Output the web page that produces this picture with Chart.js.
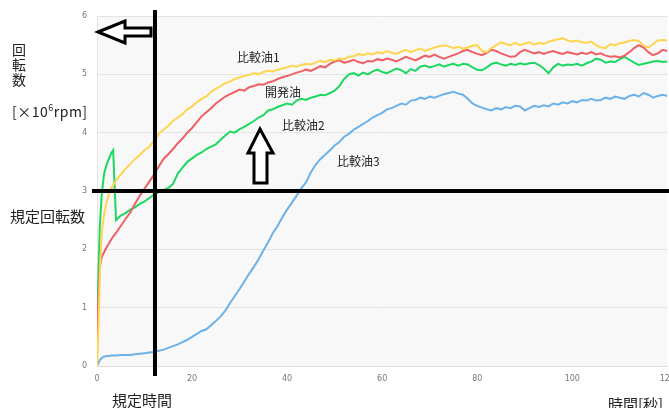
<!DOCTYPE html>
<html>
<head>
<meta charset="utf-8">
<script src="https://cdn.jsdelivr.net/npm/chart.js@4.4.0/dist/chart.umd.min.js"></script>
<style>
  html, body { margin: 0; padding: 0; background: #fff; overflow: hidden; width: 669px; height: 408px; }
  #wrap { position: relative; width: 683px; height: 408px; font-family: "Noto Sans CJK JP", sans-serif; color: #222; }
  canvas { position: absolute; left: 0; top: 0; }
  .txt { position: absolute; white-space: nowrap; line-height: 1; }
  .lbl { font-size: 12px; color: #222; }
</style>
</head>
<body>
<div id="wrap">
  <canvas id="chart" width="683" height="408"></canvas>
  <div class="txt" style="left:12px; top:42px; font-size:14px; line-height:15px;">回<br>転<br>数</div>
  <div class="txt" style="left:12px; top:103px; font-size:14px; letter-spacing:0.5px;">[×10<sup style="font-size:9px; vertical-align:6px;">6</sup>rpm]</div>
  <div class="txt" style="left:10px; top:208px; font-size:15px;">規定回転数</div>
  <div class="txt" style="left:112px; top:392px; font-size:15px;">規定時間</div>
  <div class="txt" style="left:608px; top:396px; font-size:15px;">時間[秒]</div>
  <div class="txt lbl" style="left:237px; top:51px;">比較油1</div>
  <div class="txt lbl" style="left:265px; top:86px;">開発油</div>
  <div class="txt lbl" style="left:282px; top:119px;">比較油2</div>
  <div class="txt lbl" style="left:337px; top:155px;">比較油3</div>
</div>
<script>
// time axis [s]
const times = [0, 0.3, 0.6, 1, 1.5, 2, 2.5, 3, 3.4,
  4, 5, 6, 7, 8, 9, 10, 11, 12, 13,
  14, 15, 16, 17, 18, 19, 20, 21, 22, 23,
  24, 25, 26, 27, 28, 29, 30, 31, 32, 33,
  34, 35, 36, 37, 38, 39, 40, 41, 42, 43,
  44, 45, 46, 47, 48, 49, 50, 51, 52, 53,
  54, 55, 56, 57, 58, 59, 60, 61, 62, 63,
  64, 65, 66, 67, 68, 69, 70, 71, 72, 73,
  74, 75, 76, 77, 78, 79, 80, 81, 82, 83,
  84, 85, 86, 87, 88, 89, 90, 91, 92, 93,
  94, 95, 96, 97, 98, 99, 100, 101, 102, 103,
  104, 105, 106, 107, 108, 109, 110, 111, 112, 113,
  114, 115, 116, 117, 118, 119, 120];

// 比較油1 (yellow)
const oil1 = [0, 0.6, 1.6, 2.3, 2.6, 2.8, 2.95, 3.05, 3.1,
  3.18, 3.28, 3.38, 3.46, 3.55, 3.62, 3.7, 3.76, 3.86, 3.98,
  4.05, 4.12, 4.2, 4.26, 4.32, 4.4, 4.45, 4.52, 4.58, 4.62,
  4.7, 4.75, 4.8, 4.85, 4.88, 4.92, 4.95, 4.97, 4.99, 5.02,
  5.0, 5.04, 5.06, 5.05, 5.08, 5.1, 5.12, 5.15, 5.13, 5.16,
  5.18, 5.17, 5.2, 5.23, 5.21, 5.25, 5.24, 5.27, 5.26, 5.3,
  5.31, 5.35, 5.33, 5.36, 5.34, 5.38, 5.36, 5.4, 5.37, 5.35,
  5.39, 5.42, 5.38, 5.41, 5.44, 5.4, 5.43, 5.46, 5.48, 5.5,
  5.48, 5.45, 5.47, 5.44, 5.46, 5.49, 5.5, 5.4, 5.38, 5.45,
  5.5, 5.55, 5.52, 5.5, 5.54, 5.5, 5.53, 5.55, 5.51, 5.54,
  5.52, 5.56, 5.58, 5.6, 5.62, 5.58, 5.56, 5.58, 5.55, 5.54,
  5.56, 5.5, 5.46, 5.45, 5.52, 5.5, 5.53, 5.55, 5.57, 5.59,
  5.57, 5.49, 5.46, 5.52, 5.58, 5.59, 5.58];

// 開発油 (red)
const devOil = [0.3, 1.2, 1.7, 1.87, 1.95, 2.03, 2.1, 2.17, 2.22,
  2.28, 2.4, 2.52, 2.63, 2.78, 2.92, 3.04, 3.16, 3.28, 3.42,
  3.55, 3.63, 3.72, 3.82, 3.9, 4.0, 4.08, 4.18, 4.28, 4.35,
  4.42, 4.5, 4.56, 4.62, 4.66, 4.7, 4.74, 4.72, 4.78, 4.8,
  4.83, 4.82, 4.86, 4.88, 4.92, 4.95, 4.97, 5.0, 5.03, 5.05,
  5.08, 5.06, 5.1, 5.14, 5.12, 5.18, 5.22, 5.24, 5.2, 5.22,
  5.25, 5.21, 5.19, 5.23, 5.22, 5.26, 5.24, 5.27, 5.25, 5.22,
  5.26, 5.3, 5.27, 5.24, 5.28, 5.32, 5.3, 5.34, 5.3, 5.27,
  5.3, 5.33, 5.36, 5.4, 5.42, 5.38, 5.35, 5.33, 5.37, 5.42,
  5.4, 5.36, 5.33, 5.3, 5.31, 5.38, 5.42, 5.39, 5.36, 5.38,
  5.35, 5.38, 5.4, 5.37, 5.35, 5.38, 5.36, 5.34, 5.37, 5.35,
  5.38, 5.34, 5.36, 5.32, 5.3, 5.31, 5.29, 5.32, 5.38, 5.45,
  5.5, 5.46, 5.38, 5.33, 5.36, 5.42, 5.4];

// 比較油2 (green)
const oil2 = [0.65, 1.6, 2.4, 2.95, 3.3, 3.45, 3.55, 3.65, 3.7,
  2.5, 2.58, 2.62, 2.68, 2.72, 2.78, 2.82, 2.88, 2.94, 2.98,
  3.02, 3.05, 3.12, 3.3, 3.4, 3.5, 3.56, 3.62, 3.66, 3.72,
  3.76, 3.8, 3.88, 3.95, 4.02, 4.0, 4.06, 4.1, 4.15, 4.2,
  4.26, 4.3, 4.38, 4.4, 4.44, 4.47, 4.5, 4.48, 4.55, 4.58,
  4.56, 4.6, 4.62, 4.65, 4.64, 4.68, 4.72, 4.8, 4.92, 5.0,
  5.02, 4.98, 5.03, 5.0, 5.05, 5.08, 5.04, 5.02, 5.06, 5.1,
  5.07, 5.02, 5.09, 5.06, 5.13, 5.15, 5.12, 5.14, 5.17, 5.13,
  5.16, 5.18, 5.15, 5.18, 5.17, 5.12, 5.08, 5.07, 5.12, 5.18,
  5.2, 5.17, 5.15, 5.18, 5.16, 5.19, 5.17, 5.19, 5.2, 5.16,
  5.1, 5.02, 5.12, 5.18, 5.15, 5.17, 5.16, 5.18, 5.15, 5.19,
  5.22, 5.27, 5.25, 5.2, 5.22, 5.21, 5.26, 5.3, 5.25, 5.2,
  5.16, 5.18, 5.2, 5.22, 5.23, 5.21, 5.22];

// 比較油3 (blue)
const oil3 = [0, 0.05, 0.1, 0.14, 0.16, 0.17, 0.17, 0.18, 0.18,
  0.18, 0.19, 0.19, 0.19, 0.2, 0.21, 0.22, 0.23, 0.24, 0.26,
  0.28, 0.31, 0.34, 0.37, 0.41, 0.45, 0.5, 0.55, 0.6, 0.63,
  0.7, 0.77, 0.85, 0.95, 1.08, 1.2, 1.32, 1.45, 1.58, 1.7,
  1.83, 1.98, 2.12, 2.28, 2.4, 2.55, 2.68, 2.8, 2.92, 3.05,
  3.15, 3.32, 3.45, 3.55, 3.62, 3.7, 3.78, 3.84, 3.93, 3.98,
  4.05, 4.1, 4.15, 4.2, 4.26, 4.3, 4.34, 4.4, 4.42, 4.46,
  4.5, 4.48, 4.55, 4.56, 4.6, 4.58, 4.62, 4.6, 4.63, 4.66,
  4.68, 4.7, 4.67, 4.65, 4.58, 4.5, 4.46, 4.43, 4.4, 4.38,
  4.42, 4.4, 4.44, 4.42, 4.46, 4.45, 4.38, 4.42, 4.46, 4.44,
  4.47, 4.45, 4.5, 4.48, 4.52, 4.5, 4.54, 4.52, 4.56, 4.55,
  4.58, 4.55, 4.56, 4.6, 4.58, 4.62, 4.6, 4.58, 4.63, 4.65,
  4.62, 4.68, 4.65, 4.6, 4.63, 4.65, 4.63];

const xTicks = [0, 20, 40, 60, 80, 100, 120];
const yTicks = [0, 1, 2, 3, 4, 5, 6];

// 規定時間 / 規定回転数
const limitTime = 12.2;
const limitRpm = 3;

function pts(vals) {
  return times.map((t, i) => ({ x: t, y: vals[i] }));
}

// light grey plot background
const plotBg = {
  id: 'plotBg',
  beforeDraw(chart) {
    const { ctx, chartArea: a } = chart;
    ctx.save();
    ctx.fillStyle = '#f8f8f8';
    ctx.fillRect(a.left, a.top, a.right - a.left, a.bottom - a.top);
    ctx.restore();
  }
};

// black limit lines and the two outline arrows
const marks = {
  id: 'marks',
  afterDraw(chart) {
    const { ctx, chartArea: a } = chart;
    const xs = chart.scales.x, ys = chart.scales.y;
    const lx = xs.getPixelForValue(limitTime);
    const ly = ys.getPixelForValue(limitRpm);
    ctx.save();
    ctx.strokeStyle = '#000';
    ctx.lineWidth = 4;
    ctx.beginPath();
    ctx.moveTo(lx, a.top - 6);
    ctx.lineTo(lx, a.bottom + 10);
    ctx.moveTo(a.left - 5, ly);
    ctx.lineTo(chart.width, ly);
    ctx.stroke();

    ctx.lineWidth = 3;
    ctx.fillStyle = '#fff';
    ctx.lineJoin = 'miter';
    // left arrow
    ctx.beginPath();
    ctx.moveTo(98, 32);
    ctx.lineTo(125, 21);
    ctx.lineTo(125, 28);
    ctx.lineTo(151, 28);
    ctx.lineTo(151, 36);
    ctx.lineTo(125, 36);
    ctx.lineTo(125, 43);
    ctx.closePath();
    ctx.fill();
    ctx.stroke();
    // up arrow
    ctx.beginPath();
    ctx.moveTo(260, 129);
    ctx.lineTo(273, 153);
    ctx.lineTo(267, 153);
    ctx.lineTo(267, 183);
    ctx.lineTo(254, 183);
    ctx.lineTo(254, 153);
    ctx.lineTo(248, 153);
    ctx.closePath();
    ctx.fill();
    ctx.stroke();
    ctx.restore();
  }
};

const line = (label, vals, color) => ({
  label: label,
  data: pts(vals),
  borderColor: color,
  borderWidth: 2,
  pointRadius: 0,
  tension: 0,
  fill: false
});

new Chart(document.getElementById('chart').getContext('2d'), {
  type: 'line',
  data: {
    datasets: [
      line('比較油1', oil1, '#ffd54f'),
      line('開発油', devOil, '#ef5f66'),
      line('比較油2', oil2, '#1ed761'),
      line('比較油3', oil3, '#6cb2ea')
    ]
  },
  options: {
    responsive: false,
    animation: false,
    layout: { padding: { left: 77, top: 16, right: 0, bottom: 0 } },
    plugins: { legend: { display: false }, tooltip: { enabled: false } },
    scales: {
      x: {
        type: 'linear',
        min: 0,
        max: 120,
        afterBuildTicks: s => { s.ticks = xTicks.map(v => ({ value: v })); },
        afterFit: s => { s.height = 42; },
        grid: { display: false, drawTicks: false },
        border: { display: true, color: '#dcdcdc' },
        ticks: { padding: 8, color: '#777', font: { size: 8, family: 'DejaVu Sans' }, maxRotation: 0 }
      },
      y: {
        min: 0,
        max: 6,
        afterBuildTicks: s => { s.ticks = yTicks.map(v => ({ value: v })); },
        afterFit: s => { s.width = 20; },
        grid: { color: '#e4e4e4', drawTicks: false },
        border: { display: true, color: '#e4e4e4' },
        ticks: { padding: 10, color: '#777', font: { size: 8, family: 'DejaVu Sans' } }
      }
    }
  },
  plugins: [plotBg, marks]
});
</script>
</body>
</html>
